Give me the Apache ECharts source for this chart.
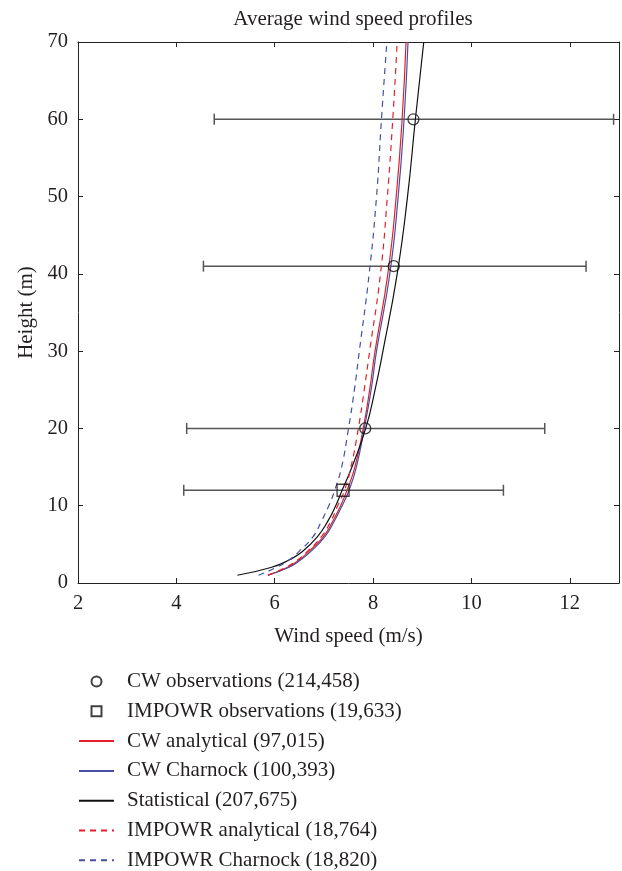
<!DOCTYPE html>
<html>
<head>
<meta charset="utf-8">
<script src="https://cdn.jsdelivr.net/npm/echarts@6/dist/echarts.min.js"></script>
<style>html,body{margin:0;padding:0;background:#fff;}#c{width:622px;height:871px;}</style>
</head>
<body>
<div id="c"></div>
<script>
// Heights (m) at which profile curves are read
var heights = [1, 2, 3, 4, 6, 8, 10, 12, 15, 20, 25, 30, 40, 50, 60, 70];
// Wind speed values (m/s) along each profile
var cwAnalytical     = [5.86, 6.25, 6.50, 6.68, 6.99, 7.18, 7.34, 7.47, 7.63, 7.80, 7.93, 8.04, 8.30, 8.47, 8.59, 8.67];
var cwCharnock       = [5.86, 6.28, 6.53, 6.72, 7.02, 7.21, 7.37, 7.51, 7.66, 7.82, 7.96, 8.07, 8.34, 8.51, 8.63, 8.71];
var statistical      = [5.24, 5.92, 6.30, 6.55, 6.87, 7.08, 7.24, 7.37, 7.57, 7.85, 8.04, 8.20, 8.49, 8.70, 8.86, 9.03];
var impowrAnalytical = [5.86, 6.22, 6.47, 6.65, 6.95, 7.14, 7.28, 7.42, 7.55, 7.70, 7.82, 7.93, 8.15, 8.29, 8.40, 8.49];
var impowrCharnock   = [5.67, 6.03, 6.30, 6.48, 6.78, 6.95, 7.10, 7.22, 7.36, 7.50, 7.62, 7.72, 7.92, 8.07, 8.17, 8.28];

// Observations
var cwObsHeights = [60, 41, 20];
var cwObsMean    = [8.82, 8.42, 7.84];
var cwObsLow     = [4.77, 4.55, 4.21];
var cwObsHigh    = [12.89, 12.33, 11.49];
var impObsHeights = [12];
var impObsMean    = [7.39];
var impObsLow     = [4.15];
var impObsHigh    = [10.65];

var legendNames = ['CW observations (214,458)', 'IMPOWR observations (19,633)', 'CW analytical (97,015)',
  'CW Charnock (100,393)', 'Statistical (207,675)', 'IMPOWR analytical (18,764)', 'IMPOWR Charnock (18,820)'];

var xTicks = {min: 2, max: 13, interval: 2};
var yTicks = {min: 0, max: 70, interval: 10};

function pairs(vals) { return vals.map(function (v, i) { return [v, heights[i]]; }); }
function obsPairs(m, h) { return m.map(function (v, i) { return [v, h[i]]; }); }
function errRows(h, lo, hi) { return h.map(function (v, i) { return [v, lo[i], hi[i]]; }); }

var FONT = 'Liberation Serif';
var TXT = '#231f20';
var RED = '#e3202a';
var BLUE = '#454fa3';
var BLACK = '#111111';

function errRender(params, api) {
  var h = api.value(0), lo = api.value(1), hi = api.value(2);
  var p1 = api.coord([lo, h]), p2 = api.coord([hi, h]);
  var c = 5.5;
  var st = {stroke: '#555', lineWidth: 1.5};
  return {type: 'group', children: [
    {type: 'line', shape: {x1: p1[0], y1: p1[1], x2: p2[0], y2: p2[1]}, style: st},
    {type: 'line', shape: {x1: p1[0], y1: p1[1] - c, x2: p1[0], y2: p1[1] + c}, style: st},
    {type: 'line', shape: {x1: p2[0], y1: p2[1] - c, x2: p2[0], y2: p2[1] + c}, style: st}
  ]};
}

function lineSeries(name, vals, color, dashed) {
  return {type: 'line', name: name, data: pairs(vals), symbol: 'none', smooth: true, z: 3,
    lineStyle: {color: color, width: 1.2, type: dashed ? [6, 5] : 'solid'}, itemStyle: {color: color}};
}

var axisCommon = {
  axisLine: {show: true, onZero: false, lineStyle: {color: '#222', width: 1}},
  axisTick: {show: true, inside: true, length: 5, lineStyle: {color: '#222'}},
  splitLine: {show: false}
};

var hideSym = {opacity: 0};
var squarePath = 'path://M0,0L10,0L10,10L0,10Z';

var option = {
  animation: false,
  backgroundColor: '#fff',
  textStyle: {fontFamily: FONT},
  title: {text: 'Average wind speed profiles', left: 348, top: 4, textAlign: 'center',
    textStyle: {fontFamily: FONT, fontSize: 21, fontWeight: 'normal', color: TXT}},
  grid: {left: 78, right: 3, top: 42, bottom: 288, containLabel: false},
  xAxis: [
    Object.assign({type: 'value', position: 'bottom', min: xTicks.min, max: xTicks.max, interval: xTicks.interval,
      name: 'Wind speed (m/s)', nameLocation: 'middle', nameGap: 43,
      nameTextStyle: {fontFamily: FONT, fontSize: 21, color: TXT},
      axisLabel: {fontFamily: FONT, fontSize: 20.5, color: TXT, margin: 10, showMaxLabel: false}}, axisCommon),
    Object.assign({type: 'value', position: 'top', min: xTicks.min, max: xTicks.max, interval: xTicks.interval,
      axisLabel: {show: false}}, axisCommon)
  ],
  yAxis: [
    Object.assign({type: 'value', position: 'left', min: yTicks.min, max: yTicks.max, interval: yTicks.interval,
      name: 'Height (m)', nameLocation: 'middle', nameGap: 41, nameRotate: 90,
      nameTextStyle: {fontFamily: FONT, fontSize: 21, color: TXT},
      axisLabel: {fontFamily: FONT, fontSize: 20.5, color: TXT, margin: 10}}, axisCommon),
    Object.assign({type: 'value', position: 'right', min: yTicks.min, max: yTicks.max, interval: yTicks.interval,
      axisLabel: {show: false}}, axisCommon)
  ],
  legend: {
    orient: 'vertical', left: 78, top: 671, height: 260, width: 420, padding: 0,
    itemWidth: 35, itemHeight: 10, itemGap: 8.8,
    textStyle: {fontFamily: FONT, fontSize: 21, lineHeight: 20, color: TXT, padding: [0, 0, 0, 8]},
    data: [
      {name: legendNames[0], icon: 'circle'},
      {name: legendNames[1], icon: squarePath},
      {name: legendNames[2], itemStyle: hideSym},
      {name: legendNames[3], itemStyle: hideSym},
      {name: legendNames[4], itemStyle: hideSym},
      {name: legendNames[5], itemStyle: hideSym},
      {name: legendNames[6], itemStyle: hideSym}
    ]
  },
  series: [
    {type: 'custom', name: 'cwErr', renderItem: errRender, data: errRows(cwObsHeights, cwObsLow, cwObsHigh),
      encode: {x: [1, 2], y: 0}, z: 2, silent: true},
    {type: 'custom', name: 'impErr', renderItem: errRender, data: errRows(impObsHeights, impObsLow, impObsHigh),
      encode: {x: [1, 2], y: 0}, z: 2, silent: true},
    lineSeries(legendNames[2], cwAnalytical, RED, false),
    lineSeries(legendNames[3], cwCharnock, BLUE, false),
    lineSeries(legendNames[4], statistical, BLACK, false),
    lineSeries(legendNames[5], impowrAnalytical, RED, true),
    lineSeries(legendNames[6], impowrCharnock, BLUE, true),
    {type: 'scatter', name: legendNames[0], data: obsPairs(cwObsMean, cwObsHeights), symbol: 'circle', symbolSize: 11, z: 5,
      itemStyle: {color: 'rgba(255,255,255,0)', borderColor: BLACK, borderWidth: 1.3}},
    {type: 'scatter', name: legendNames[1], data: obsPairs(impObsMean, impObsHeights), symbol: 'rect', symbolSize: 12, z: 5,
      itemStyle: {color: 'rgba(255,255,255,0)', borderColor: BLACK, borderWidth: 1.3}}
  ]
};
var chart = echarts.init(document.getElementById('c'), null, {renderer: 'canvas'});
chart.setOption(option);
</script>
</body>
</html>
